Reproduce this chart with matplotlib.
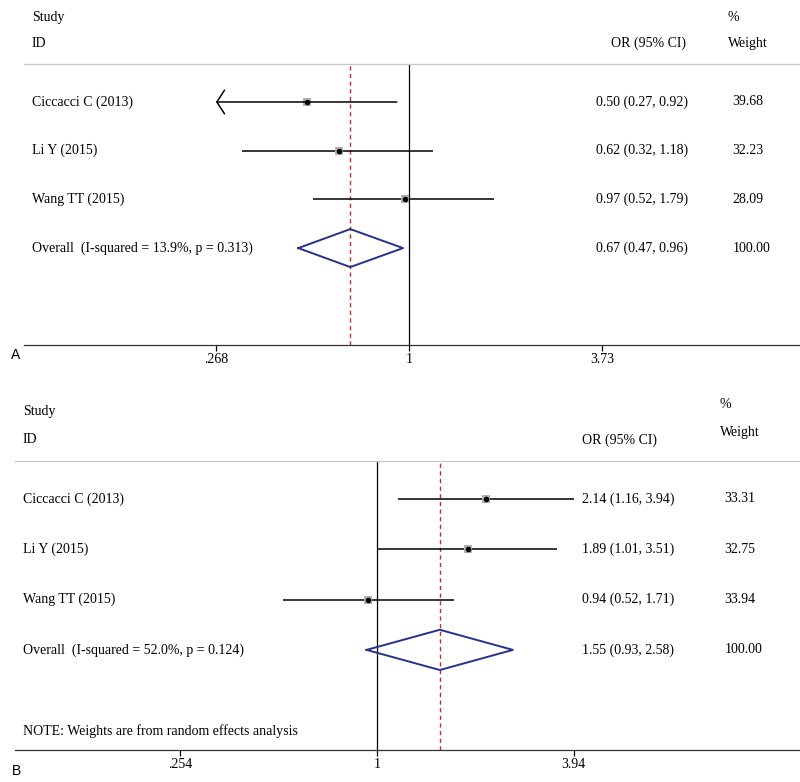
import numpy as np
import matplotlib
matplotlib.use('Agg')
import matplotlib.pyplot as plt

plt.rcParams['font.family'] = ['Liberation Serif', 'DejaVu Serif']

# data for the two forest plots
studies = ['Ciccacci C (2013)', 'Li Y (2015)', 'Wang TT (2015)']

or_a = [0.50, 0.62, 0.97]
lo_a = [0.27, 0.32, 0.52]
hi_a = [0.92, 1.18, 1.79]
wt_a = ['39.68', '32.23', '28.09']
arrow_a = [True, False, False]
overall_a = [0.67, 0.47, 0.96]
overall_label_a = 'Overall  (I-squared = 13.9%, p = 0.313)'
ticks_a = [0.268, 1, 3.73]
ticklabels_a = ['.268', '1', '3.73']

or_b = [2.14, 1.89, 0.94]
lo_b = [1.16, 1.01, 0.52]
hi_b = [3.94, 3.51, 1.71]
wt_b = ['33.31', '32.75', '33.94']
arrow_b = [False, False, False]
overall_b = [1.55, 0.93, 2.58]
overall_label_b = 'Overall  (I-squared = 52.0%, p = 0.124)'
ticks_b = [0.254, 1, 3.94]
ticklabels_b = ['.254', '1', '3.94']

W, H = 800, 782
fig = plt.figure(figsize=(W / 100, H / 100), dpi=100)

FS = 10


def forest(ax, est, lo, hi, wt, arrows, overall, overall_label, ticks, ticklabels,
           xlim, ylim, pos, letter, letter_y, note=None, note_y=None):
    ax.set_xscale('log')
    ax.set_xlim(*xlim)
    ax.set_ylim(*ylim)
    for s in ['left', 'right']:
        ax.spines[s].set_visible(False)
    ax.spines['top'].set_color('#c8c8c8')
    ax.spines['top'].set_linewidth(0.9)
    ax.spines['bottom'].set_color('#333333')
    ax.spines['bottom'].set_linewidth(0.9)
    ax.set_yticks([])
    ax.set_xticks(ticks)
    ax.set_xticklabels(ticklabels)
    ax.minorticks_off()
    ax.tick_params(axis='x', direction='out', length=4, width=0.9, labelsize=FS, pad=2)

    # null line and pooled estimate line
    ax.axvline(1, color='black', lw=0.9)
    ax.axvline(overall[0], color='#b5302a', lw=1.0, ls=(0, (3, 2.5)))

    tx = ax.get_yaxis_transform()  # x in axes fraction, y in data
    for i in range(len(est)):
        if arrows[i]:
            ax.annotate('', xy=(ticks[0], i), xytext=(hi[i], i),
                        arrowprops=dict(arrowstyle='->,head_length=0.55,head_width=0.85',
                                        color='black', lw=1.1, shrinkA=0, shrinkB=0))
        else:
            ax.plot([lo[i], hi[i]], [i, i], color='black', lw=1.1, solid_capstyle='butt')
        ax.plot(est[i], i, marker='s', color='#b0b0b0', ms=5.5, mew=0)
        ax.plot(est[i], i, marker='o', color='black', ms=4, mew=0)
        ax.text(pos['label'], i, studies[i], transform=tx, fontsize=FS, va='center')
        ax.text(pos['or'], i, '%.2f (%.2f, %.2f)' % (est[i], lo[i], hi[i]),
                transform=tx, fontsize=FS, va='center')
        ax.text(pos['wt'], i, wt[i], transform=tx, fontsize=FS, va='center')

    # overall diamond
    k = len(est)
    h = pos['dh']
    ax.plot([overall[1], overall[0], overall[2], overall[0], overall[1]],
            [k, k - h, k, k + h, k], color='#27318b', lw=1.4)
    ax.text(pos['label'], k, overall_label, transform=tx, fontsize=FS, va='center')
    ax.text(pos['or'], k, '%.2f (%.2f, %.2f)' % tuple(overall),
            transform=tx, fontsize=FS, va='center')
    ax.text(pos['wt'], k, '100.00', transform=tx, fontsize=FS, va='center')

    # headers
    ax.text(pos['label'], pos['study_y'], 'Study', transform=tx, fontsize=FS, va='center')
    ax.text(pos['label'], pos['id_y'], 'ID', transform=tx, fontsize=FS, va='center')
    ax.text(pos['orh'], pos['orh_y'], 'OR (95% CI)', transform=tx, fontsize=FS,
            va='center', ha='center')
    ax.text(pos['wt'] - 0.006, pos['pct_y'], '%', transform=tx, fontsize=FS, va='center')
    ax.text(pos['wt'] - 0.006, pos['wh_y'], 'Weight', transform=tx, fontsize=FS, va='center')

    if note:
        ax.text(pos['label'], note_y, note, transform=tx, fontsize=FS, va='center')

    ax.text(pos['letter_x'], letter_y, letter, transform=tx, fontsize=10,
            va='center', family='Liberation Sans')
    for t in ax.texts:
        t.set_clip_on(False)


# panel A: axes from x=24..800 px, y=64..345 px
axA = fig.add_axes([24 / W, (H - 345) / H, 776 / W, (345 - 64) / H])
posA = {'label': 0.0103, 'or': 0.737, 'wt': 0.913, 'orh': 0.805, 'dh': 0.39,
        'study_y': -1.74, 'id_y': -1.21, 'orh_y': -1.21, 'pct_y': -1.74, 'wh_y': -1.21,
        'letter_x': -0.017}
forest(axA, or_a, lo_a, hi_a, wt_a, arrow_a, overall_a, overall_label_a,
       ticks_a, ticklabels_a,
       xlim=(np.exp(-2.626), np.exp(2.667)), ylim=(4.99, -0.78),
       pos=posA, letter='A', letter_y=5.2)

# panel B: axes from x=15..800 px, y=461..750 px
axB = fig.add_axes([15 / W, (H - 750) / H, 785 / W, (750 - 461) / H])
posB = {'label': 0.0102, 'or': 0.722, 'wt': 0.904, 'orh': 0.770, 'dh': 0.40,
        'study_y': -1.73, 'id_y': -1.19, 'orh_y': -1.17, 'pct_y': -1.87, 'wh_y': -1.33,
        'letter_x': -0.004}
forest(axB, or_b, lo_b, hi_b, wt_b, arrow_b, overall_b, overall_label_b,
       ticks_b, ticklabels_b,
       xlim=(np.exp(-2.524), np.exp(2.950)), ylim=(4.99, -0.755),
       pos=posB, letter='B', letter_y=5.4,
       note='NOTE: Weights are from random effects analysis', note_y=4.61)

fig.savefig('out.png', dpi=100)
